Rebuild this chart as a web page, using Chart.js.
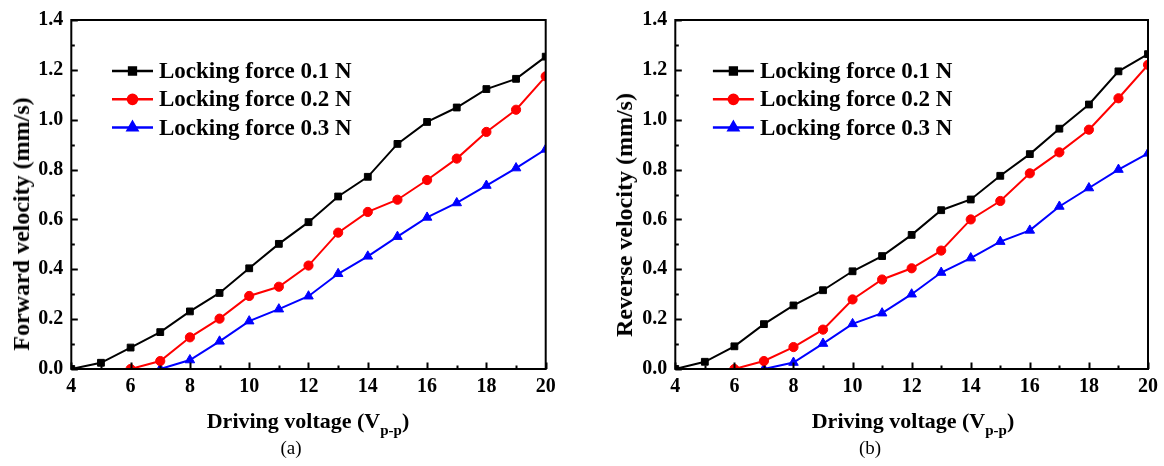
<!DOCTYPE html>
<html>
<head>
<meta charset="utf-8">
<script src="https://cdn.jsdelivr.net/npm/chart.js@4.4.1/dist/chart.umd.min.js"></script>
<style>
  html, body { margin: 0; padding: 0; background: #fff; }
  body { width: 1164px; height: 466px; position: relative; overflow: hidden; font-family: 'Liberation Serif', 'DejaVu Serif', serif; }
  .wrap { position: absolute; top: 0; height: 466px; }
  .xt { position: absolute; font-weight: bold; font-size: 22px; white-space: nowrap; transform: translateX(-50%); line-height: 1; }
  .xt sub { font-size: 15px; vertical-align: -7px; }
  .yt { position: absolute; font-weight: bold; font-size: 24px; white-space: nowrap; transform: translate(-50%, -50%) rotate(-90deg); line-height: 1; }
  .cap { position: absolute; font-size: 19px; transform: translateX(-50%); line-height: 1; }
</style>
</head>
<body>
<div class="wrap" style="left:0;width:580px;"><canvas id="ca"></canvas></div>
<div class="wrap" style="left:604px;width:560px;"><canvas id="cb"></canvas></div>
<div class="yt" style="left:21px;top:224px;">Forward velocity (mm/s)</div>
<div class="yt" style="left:624px;top:215px;">Reverse velocity (mm/s)</div>
<div class="xt" style="left:308px;top:410px;">Driving voltage (V<sub>p-p</sub>)</div>
<div class="xt" style="left:913px;top:410px;">Driving voltage (V<sub>p-p</sub>)</div>
<div class="cap" style="left:291px;top:438px;">(a)</div>
<div class="cap" style="left:870px;top:438px;">(b)</div>
<script>
// ---- data ----
const voltages = [4, 5, 6, 7, 8, 9, 10, 11, 12, 13, 14, 15, 16, 17, 18, 19, 20];
const seriesNames = ['Locking force 0.1 N', 'Locking force 0.2 N', 'Locking force 0.3 N'];
const xTickLabels = [4, 6, 8, 10, 12, 14, 16, 18, 20];
const yTickLabels = ['0.0', '0.2', '0.4', '0.6', '0.8', '1.0', '1.2', '1.4'];

// (a) forward velocity (mm/s)
const fwd01 = [0, 0.025, 0.086, 0.148, 0.231, 0.305, 0.404, 0.502, 0.589, 0.692, 0.771, 0.903, 0.991, 1.049, 1.123, 1.164, 1.253];
const fwd02 = [null, null, 0, 0.032, 0.127, 0.202, 0.293, 0.330, 0.415, 0.547, 0.630, 0.679, 0.758, 0.844, 0.951, 1.040, 1.174];
const fwd03 = [null, null, null, 0, 0.036, 0.111, 0.192, 0.240, 0.292, 0.382, 0.452, 0.531, 0.608, 0.666, 0.736, 0.806, 0.881];

// (b) reverse velocity (mm/s)
const rev01 = [0, 0.029, 0.091, 0.180, 0.255, 0.316, 0.392, 0.453, 0.538, 0.637, 0.680, 0.775, 0.862, 0.964, 1.061, 1.194, 1.263];
const rev02 = [null, null, 0, 0.032, 0.088, 0.158, 0.279, 0.359, 0.404, 0.475, 0.600, 0.674, 0.785, 0.869, 0.960, 1.086, 1.220];
const rev03 = [null, null, null, 0, 0.026, 0.102, 0.181, 0.224, 0.300, 0.387, 0.445, 0.511, 0.556, 0.652, 0.726, 0.800, 0.865];

const colors = ['#000000', '#ff0000', '#0000ff'];
const styles = ['rect', 'circle', 'triangle'];
const radii = [4.8, 4.6, 5.5];
const FONT = "'Liberation Serif', 'Times New Roman', serif";

function toPts(arr) {
  const out = [];
  arr.forEach((v, i) => { if (v !== null) out.push({ x: voltages[i], y: v }); });
  return out;
}

const framePlugin = {
  id: 'frame',
  afterDatasetsDraw(chart, args, opts) {
    const ctx = chart.ctx, a = chart.chartArea;
    const xs = chart.scales.x, ys = chart.scales.y;
    ctx.save();
    ctx.strokeStyle = '#000';
    ctx.lineWidth = 2;
    ctx.beginPath();
    for (let v = xs.min; v <= xs.max + 1e-9; v += 1) {
      const px = Math.round(xs.getPixelForValue(v)) + 0.5;
      const len = (v % 2 === 0) ? 6.5 : 3.5;
      ctx.moveTo(px, a.bottom);
      ctx.lineTo(px, a.bottom - len);
    }
    for (let k = 0; k <= 14; k++) {
      const v = k / 10;
      const py = Math.round(ys.getPixelForValue(v)) + 0.5;
      const len = (k % 2 === 0) ? 6.5 : 3.5;
      ctx.moveTo(a.left, py);
      ctx.lineTo(a.left + len, py);
    }
    ctx.stroke();
    ctx.strokeRect(a.left, a.top, a.right - a.left, a.bottom - a.top);
    ctx.restore();

    // legend inside plot
    ctx.save();
    const lx = a.left + opts.dx, ly = a.top + opts.dy, gap = 28.3;
    chart.data.datasets.forEach((ds, i) => {
      const y = ly + i * gap;
      ctx.strokeStyle = ds.borderColor;
      ctx.lineWidth = 2.5;
      ctx.beginPath();
      ctx.moveTo(lx, y);
      ctx.lineTo(lx + 41, y);
      ctx.stroke();
      Chart.helpers.drawPoint(ctx, {
        pointStyle: ds.pointStyle, radius: ds.pointRadius, borderWidth: 1, rotation: 0
      }, lx + 20.5, y);
      ctx.fillStyle = ds.backgroundColor;
      ctx.fill();
      ctx.fillStyle = '#000';
      ctx.font = 'bold 23px ' + FONT;
      ctx.textBaseline = 'middle';
      ctx.textAlign = 'left';
      ctx.fillText(ds.label, lx + 47, y + 1);
    });
    ctx.restore();
  }
};

function makeChart(id, arrs, padRight, legendDx) {
  const datasets = arrs.map((arr, i) => ({
    label: seriesNames[i],
    data: toPts(arr),
    borderColor: colors[i],
    backgroundColor: colors[i],
    borderWidth: 2,
    pointStyle: styles[i],
    pointRadius: radii[i],
    pointBorderWidth: 1,
    pointHoverRadius: radii[i],
    tension: 0,
    clip: 0
  }));
  return new Chart(document.getElementById(id), {
    type: 'line',
    data: { datasets },
    plugins: [framePlugin],
    options: {
      responsive: true,
      maintainAspectRatio: false,
      animation: false,
      events: [],
      layout: { padding: { left: 0, right: padRight, top: 15.7, bottom: 0 } },
      plugins: {
        legend: { display: false },
        tooltip: { enabled: false },
        frame: { dx: legendDx, dy: 51 }
      },
      scales: {
        x: {
          type: 'linear',
          min: 4, max: 20,
          afterBuildTicks: (s) => { s.ticks = xTickLabels.map(v => ({ value: v })); },
          grid: { display: false, drawTicks: false },
          border: { display: false },
          ticks: {
            color: '#000', padding: 6,
            font: { family: FONT, size: 20, weight: 'bold' },
            maxRotation: 0, autoSkip: false
          },
          afterFit: (s) => { s.height = 97; }
        },
        y: {
          min: 0, max: 1.4,
          afterBuildTicks: (s) => { s.ticks = yTickLabels.map(t => ({ value: parseFloat(t) })); },
          grid: { display: false, drawTicks: false },
          border: { display: false },
          ticks: {
            color: '#000', padding: 8,
            font: { family: FONT, size: 20, weight: 'bold' },
            callback: (v) => yTickLabels.find(t => Math.abs(parseFloat(t) - v) < 1e-6) || ''
          },
          afterFit: (s) => { s.width = 71.3; }
        }
      }
    }
  });
}

makeChart('ca', [fwd01, fwd02, fwd03], 34.3, 40.7);
makeChart('cb', [rev01, rev02, rev03], 13.3, 37.6);
</script>
</body>
</html>
